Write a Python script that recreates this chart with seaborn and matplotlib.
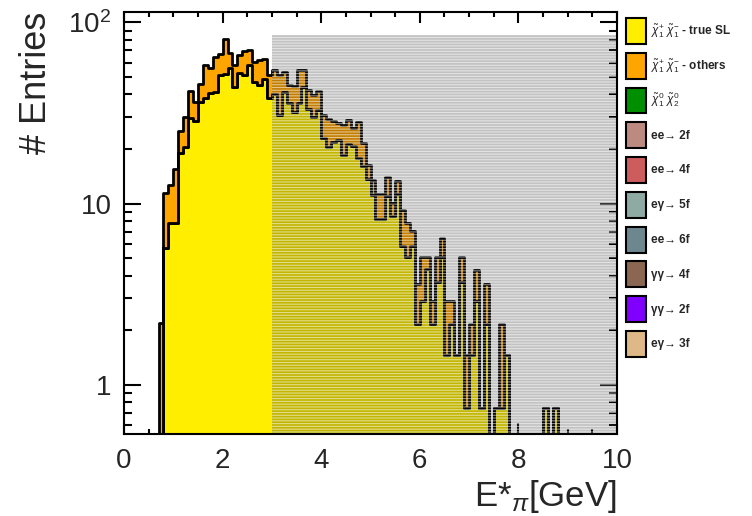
import numpy as np
import pandas as pd
import matplotlib
matplotlib.use("Agg")
import matplotlib.pyplot as plt
from matplotlib.patches import Patch, Rectangle
from matplotlib.ticker import MultipleLocator, LogLocator, NullFormatter
import seaborn as sns

# ---------------- data ----------------
bin_width = 0.1
e_range = (0.0, 10.0)

# chi1+ chi1- true semi-leptonic (bottom of stack)
true_sl = [
    0, 0, 0, 0, 0, 0, 0, 0, 5.7, 7.85,
    7.85, 19.0, 20.4, 29.5, 28.7, 36.3, 38.2, 40.7, 41.1, 51.4,
    52.1, 56.2, 43.8, 52.7, 51.3, 57.9, 47.1, 44.9, 48.8, 38.2,
    40.3, 31.0, 41.1, 35.7, 32.0, 35.7, 44.1, 33.4, 30.0, 32.9,
    22.9, 20.4, 21.9, 22.4, 18.6, 21.2, 20.8, 17.8, 16.1, 13.6,
    11.2, 8.2, 8.2, 11.0, 8.5, 11.3, 5.84, 5.05, 5.84, 2.18,
    2.92, 4.36, 2.18, 3.68, 5.05, 1.46, 2.18, 1.46, 3.68, 0.745,
    1.46, 2.89, 0.745, 2.18, 0, 0.745, 0.745, 1.46, 0, 0,
    0, 0, 0, 0, 0, 0.745, 0, 0.745, 0, 0,
    0, 0, 0, 0, 0, 0, 0, 0, 0, 0,
]

# chi1+ chi1- others (stacked on top)
others = [
    0, 0, 0, 0, 0, 0, 0, 2.2, 5.7, 4.85,
    7.65, 6.3, 9.7, 12.4, 7.8, 9.4, 20.3, 15.5, 23.3, 15.2,
    28.9, 11.7, 14.4, 13.0, 17.9, 12.8, 13.1, 16.8, 14.1, 13.2,
    14.6, 20.4, 12.4, 9.5, 12.4, 19.2, 10.8, 8.9, 9.8, 8.7,
    7.8, 8.8, 6.8, 5.3, 8.7, 7.8, 5.2, 10.4, 5.4, 2.8,
    2.3, 3.1, 3.1, 3.1, 1.6, 2.1, 3.43, 2.8, 1.26, 1.42,
    2.13, 0.69, 0.74, 1.37, 1.39, 1.46, 0.74, 0, 1.37, 0.715,
    0.72, 1.43, 0, 1.42, 0, 0, 1.435, 0, 0, 0,
    0, 0, 0, 0, 0, 0, 0, 0, 0, 0,
    0, 0, 0, 0, 0, 0, 0, 0, 0, 0,
]

legend_labels = [
    r"$\tilde{\chi}^{+}_{1}\ \tilde{\chi}^{-}_{1}$ - true SL",
    r"$\tilde{\chi}^{+}_{1}\ \tilde{\chi}^{-}_{1}$ - others",
    r"$\tilde{\chi}^{0}_{1}\ \tilde{\chi}^{0}_{2}$",
    "ee→ 2f", "ee→ 4f", "eγ→ 5f", "ee→ 6f", "γγ→ 4f", "γγ→ 2f", "eγ→ 3f",
]
legend_colors = [
    "#FFEE00", "#FFA500", "#008F00", "#BC8A80", "#CD5C5C",
    "#8FA9A3", "#6E878F", "#8B6650", "#7F00FF", "#DEB887",
]

cut_range = (3.0, 10.0)
cut_top = 85.0
x_ticks = [0, 2, 4, 6, 8, 10]
y_ticks = [1, 10, 100]
y_ticklabels = ["1", "10", "10$^{2}$"]

# ---------------- style ----------------
sns.set_theme(style="ticks")
plt.rcParams["font.family"] = ["Liberation Sans", "DejaVu Sans"]
plt.rcParams["mathtext.fontset"] = "custom"
plt.rcParams["mathtext.rm"] = "Liberation Sans"
plt.rcParams["mathtext.it"] = "Liberation Sans:italic"
plt.rcParams["mathtext.bf"] = "Liberation Sans:bold"
plt.rcParams["hatch.linewidth"] = 0.8

n_bins = len(true_sl)
centers = e_range[0] + bin_width * (np.arange(n_bins) + 0.5)
df = pd.DataFrame({
    "E": np.concatenate([centers, centers]),
    "w": np.concatenate([true_sl, others]),
    "proc": ["true SL"] * n_bins + ["others"] * n_bins,
})

fig = plt.figure(figsize=(7.52, 5.16), dpi=100)
ax = fig.add_axes([124 / 752, 1 - 434 / 516, (617 - 124) / 752, (434 - 12) / 516])

sns.histplot(
    data=df, x="E", weights="w", hue="proc", hue_order=["others", "true SL"],
    palette={"true SL": legend_colors[0], "others": legend_colors[1]},
    binwidth=bin_width, binrange=e_range, multiple="stack", element="step",
    fill=True, alpha=1, edgecolor="black", linewidth=2, legend=False, ax=ax,
)
ax.set_yscale("log")
ax.set_xlim(0, 10)
ylo, yhi = 0.536, 114
ax.set_ylim(ylo, yhi)

# shaded (hatched) cut region
ax.add_patch(Rectangle((cut_range[0], ylo), cut_range[1] - cut_range[0], cut_top - ylo,
                       facecolor=(0, 0, 0, 0.24), edgecolor=(1, 1, 1, 0.55),
                       hatch="------", linewidth=0, zorder=2))

# axes / ticks
for s in ax.spines.values():
    s.set_linewidth(1.5)
    s.set_color("black")
ax.set_xticks(x_ticks)
ax.xaxis.set_minor_locator(MultipleLocator(0.5))
ax.set_yticks(y_ticks, labels=y_ticklabels)
ax.yaxis.set_minor_locator(LogLocator(base=10, subs=np.arange(2, 10)))
ax.yaxis.set_minor_formatter(NullFormatter())
ax.tick_params(which="both", direction="in", top=True, right=True, width=1.5,
               labelsize=20, color="black")
ax.tick_params(axis="x", which="major", length=8)
ax.tick_params(axis="x", which="minor", length=3.6)
ax.tick_params(axis="y", which="major", length=12)
ax.tick_params(axis="y", which="minor", length=5.8)
ax.tick_params(axis="x", pad=10)
ax.tick_params(axis="y", pad=9)

ax.set_xlabel("E*$_{\\pi}$[GeV]", loc="right", fontsize=25)
ax.xaxis.set_label_coords(1.0, -0.105)
ax.set_ylabel("# Entries", loc="top", fontsize=26)
ax.yaxis.set_label_coords(-0.142, 1.0)

handles = [Patch(facecolor=c, edgecolor="black", linewidth=1.5) for c in legend_colors]
fig.legend(handles, legend_labels, loc="upper left",
           bbox_to_anchor=(626 / 752, 1 - 18 / 516), frameon=False,
           prop={"weight": "bold", "size": 8.5}, handlelength=1.7, handleheight=3.0,
           labelspacing=0.75, handletextpad=0.45, borderpad=0, borderaxespad=0)

fig.savefig("out.png", dpi=100)
